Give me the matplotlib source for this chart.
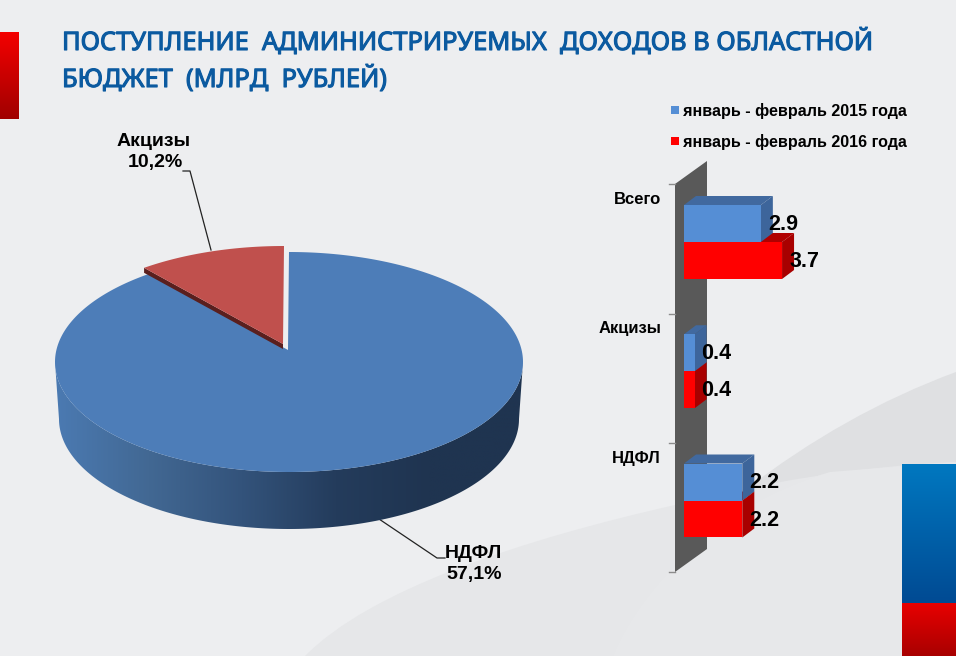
import numpy as np
from matplotlib import pyplot as plt
from matplotlib import patheffects
from matplotlib.colors import LinearSegmentedColormap
from matplotlib.patches import PathPatch, Polygon, Rectangle
from matplotlib.path import Path

title_lines = ['ПОСТУПЛЕНИЕ  АДМИНИСТРИРУЕМЫХ  ДОХОДОВ В ОБЛАСТНОЙ',
               'БЮДЖЕТ  (МЛРД  РУБЛЕЙ)']

# pie: printed percentages do not add up, the slice itself is drawn at its 10.2 share
pie_labels = ['НДФЛ', 'Акцизы']
pie_percent = [57.1, 10.2]
pie_drawn_share = [89.8, 10.2]

categories = ['Всего', 'Акцизы', 'НДФЛ']
series_names = ['январь - февраль 2015 года', 'январь - февраль 2016 года']
values_2015 = [2.9, 0.4, 2.2]
values_2016 = [3.7, 0.4, 2.2]

BG = '#EDEEF0'
BLUE_TOP = '#4D7DB8'
RED_TOP = '#C0504D'
BAR_BLUE = '#558ED5'
BAR_RED = '#FF0000'
SANS = 'Liberation Sans'


def gradient(ax, colors, extent, horizontal=False, clip=None):
    cmap = LinearSegmentedColormap.from_list('g', colors)
    g = np.linspace(0, 1, 256)
    g = g.reshape(1, -1) if horizontal else g.reshape(-1, 1)
    im = ax.imshow(g, cmap=cmap, extent=extent, aspect='auto', zorder=2, interpolation='bilinear')
    if clip is not None:
        im.set_clip_path(clip)
    return im


def swoosh(ax, start, curves, corners, color):
    verts = [start]
    codes = [Path.MOVETO]
    for c in curves:
        verts += c
        codes += [Path.CURVE4] * 3
    for c in corners:
        verts.append(c)
        codes.append(Path.LINETO)
    verts.append(start)
    codes.append(Path.CLOSEPOLY)
    ax.add_patch(PathPatch(Path(verts, codes), fc=color, ec='none', zorder=1))


def draw_background(ax):
    swoosh(ax, (745, 490), [[(810, 440), (880, 400), (956, 372)]], [(956, 480)], '#DFE0E2')
    swoosh(ax, (305, 656), [[(370, 590), (520, 540), (675, 505)], [(760, 483), (860, 466), (956, 462)]],
           [(956, 656)], '#E6E7E9')
    swoosh(ax, (613, 656), [[(630, 615), (655, 585), (690, 550)], [(730, 515), (770, 490), (830, 472)]],
           [(956, 462), (956, 656)], '#E7E8EA')
    gradient(ax, ['#0078C0', '#004A93'], (902, 956, 603, 464))
    gradient(ax, ['#E80000', '#A80000'], (902, 956, 656, 603))
    gradient(ax, ['#F40000', '#A00000'], (0, 19, 119, 32))


def draw_pie(ax):
    cx, cy, rx, ry = 289, 362, 234, 110
    apex = (288, 350)
    slice_deg = 360 * pie_drawn_share[1] / sum(pie_drawn_share)

    # front wall of the cylinder
    t = np.linspace(-np.pi / 2, np.pi / 2, 200)
    upper = np.column_stack((cx + rx * np.sin(t), cy + ry * np.cos(t)))
    lower = np.column_stack((cx + 230 * np.sin(t), cy + 57 + ry * np.cos(t)))
    side = Polygon(np.vstack((upper, lower[::-1])), closed=True, transform=ax.transData, fc='none', ec='none')
    ax.add_patch(side)
    gradient(ax, ['#4B7AB2', '#426893', '#33537B', '#243C5C', '#1F3450', '#1F3450'], (55, 523, 530, 360),
             horizontal=True, clip=side)

    # blue top
    a = np.radians(np.linspace(0, 360 - slice_deg, 300))
    rim = np.column_stack((cx + rx * np.sin(a), cy - ry * np.cos(a)))
    ax.add_patch(Polygon(np.vstack((rim, apex)), fc=BLUE_TOP, ec='none', zorder=3))

    # pulled out slice
    ox, oy = -5, -6
    a = np.radians(np.linspace(360 - slice_deg, 360, 80))
    rim = np.column_stack((cx + ox + rx * np.sin(a), cy + oy - ry * np.cos(a)))
    tip = (apex[0] + ox, apex[1] + oy)
    edge = np.array([rim[0], tip, (tip[0], tip[1] + 5), (rim[0][0], rim[0][1] + 5)])
    ax.add_patch(Polygon(edge, fc='#5A1F1E', ec='none', zorder=4))
    ax.add_patch(Polygon(np.vstack((rim, tip)), fc=RED_TOP, ec='none', zorder=5))

    ax.plot([379, 437, 445], [519, 558, 558], color='#222222', lw=0.9, zorder=1.5)
    ax.plot([183, 190, 211], [171, 171, 250], color='#222222', lw=0.9, zorder=6)
    for name, pct, x, y in ((pie_labels[1], pie_percent[1], 154, 142), (pie_labels[0], pie_percent[0], 473, 553)):
        ax.text(x, y, name, ha='center', va='center', fontsize=14, fontweight='bold', family=SANS, zorder=7)
        ax.text(x + 1, y + 21, f'{pct}%'.replace('.', ','), ha='center', va='center', fontsize=14,
                fontweight='bold', family=SANS, zorder=7)


def draw_wall(ax):
    ax.add_patch(Polygon([(675, 184), (707, 161), (707, 549), (675, 572)], fc='#595959', ec='none', zorder=2))
    for y in (184, 313.5, 443, 572):
        ax.plot([669, 675], [y, y], color='#8C8C8C', lw=1, zorder=2)
    for name, y in zip(categories, (199.5, 329, 458)):
        ax.text(661, y, name, ha='right', va='center', fontsize=12, fontweight='bold', family=SANS, zorder=7)


def draw_legend(ax):
    for name, color, y in zip(series_names, (BAR_BLUE, BAR_RED), (110, 141)):
        ax.add_patch(Rectangle((671, y - 4), 8, 8, fc=color, ec='none', zorder=7))
        ax.text(683, y + 1, name, ha='left', va='center', fontsize=11.6, fontweight='bold', family=SANS, zorder=7)


def draw_bars(fig):
    px_per_unit, px_per_cat = 26.5, 129.25
    left, top, bottom = 684, 160, 580
    bax = fig.add_axes([left / 956, 1 - bottom / 656, (956 - left) / 956, (bottom - top) / 656])
    bax.set_xlim(0, (956 - left) / px_per_unit)
    # category 0 is centred on pixel row 242
    bax.set_ylim((bottom - 242) / px_per_cat, (top - 242) / px_per_cat)
    bax.axis('off')

    h = 37 / px_per_cat
    dx, dy = 12 / px_per_unit, -9 / px_per_cat
    pos = np.arange(len(categories))
    rows = ((values_2016, pos + h / 2, BAR_RED, '#B00000', '#A80000'),
            (values_2015, pos - h / 2, BAR_BLUE, '#41699F', '#3D659B'))
    for vals, ys, front, top_c, side_c in rows:
        for v, y in zip(vals, ys):
            yt, yb = y - h / 2, y + h / 2
            bax.fill([0, dx, v + dx, v], [yt, yt + dy, yt + dy, yt], color=top_c, lw=0, zorder=2)
            bax.fill([v, v + dx, v + dx, v], [yt, yt + dy, yb + dy, yb], color=side_c, lw=0, zorder=2)
    for vals, ys, front, top_c, side_c in rows:
        bax.barh(ys, vals, height=h, color=front, zorder=3)
        for v, y in zip(vals, ys):
            bax.text(v + 7 / px_per_unit, y + 1 / px_per_cat, f'{v}', ha='left', va='center',
                     fontsize=15.5, fontweight='bold', family=SANS, zorder=5, clip_on=False)


def main():
    fig = plt.figure(figsize=(9.56, 6.56), dpi=100, facecolor=BG)
    ax = fig.add_axes([0, 0, 1, 1])
    draw_background(ax)
    draw_pie(ax)
    draw_wall(ax)
    draw_legend(ax)
    for line, y in zip(title_lines, (50, 87)):
        txt = ax.text(62, y, line, ha='left', va='baseline', fontsize=18.3,
                      family='Noto Sans', color='#0B5AA0', zorder=7)
        # installed face has no bold cut here, so thicken the outline
        txt.set_path_effects([patheffects.withStroke(linewidth=0.8, foreground='#0B5AA0')])
    ax.set_xlim(0, 956)
    ax.set_ylim(656, 0)
    ax.axis('off')
    draw_bars(fig)
    fig.savefig('out.png', dpi=100, facecolor=BG)


if __name__ == '__main__':
    main()
